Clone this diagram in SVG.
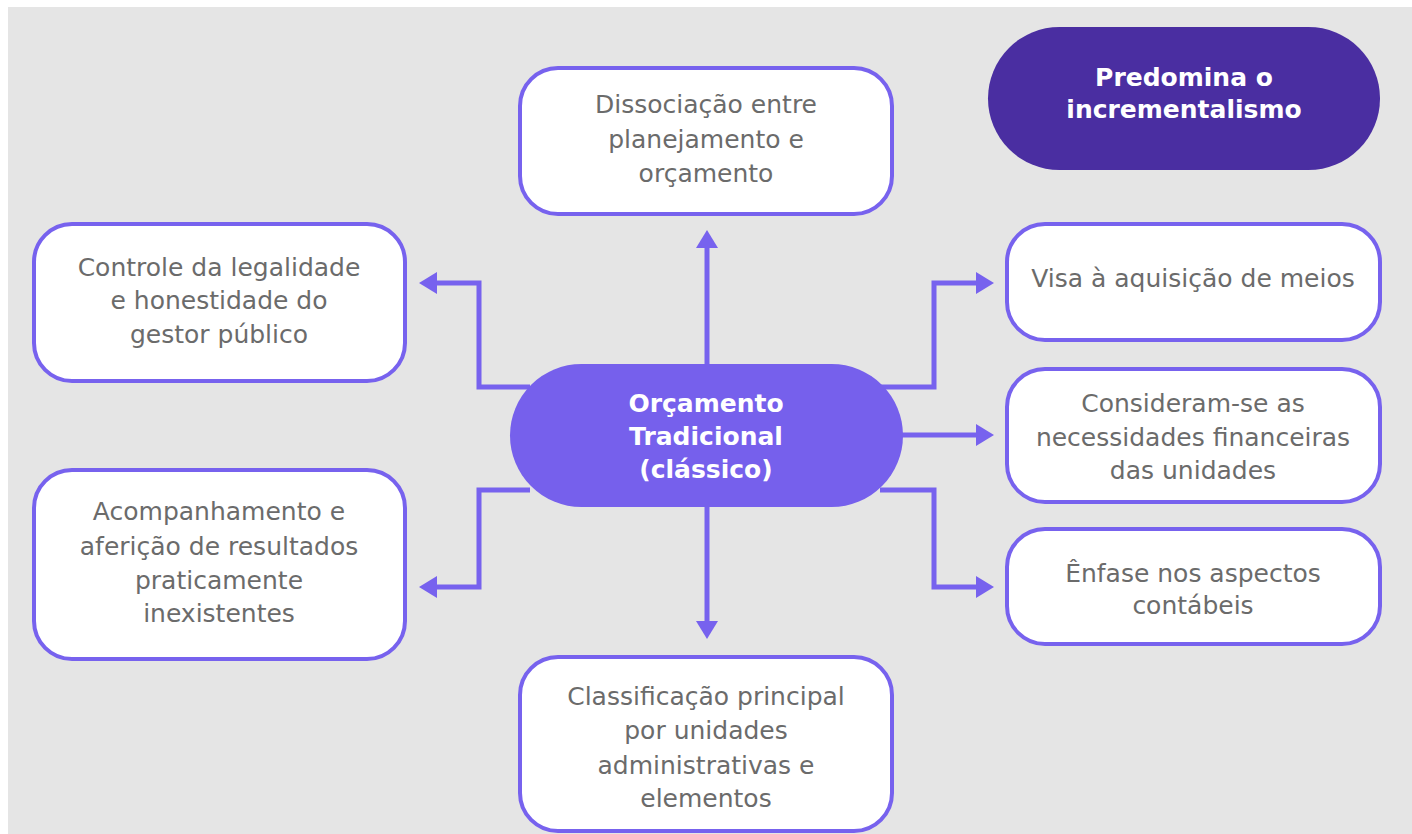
<svg xmlns="http://www.w3.org/2000/svg" width="1412" height="834" viewBox="0 0 1412 834">
<defs>
<style>
.box{fill:#ffffff;stroke:#7762EE;stroke-width:4}
.t{font-family:"DejaVu Sans","Liberation Sans",sans-serif;font-size:25px;fill:#6b6b6b;text-anchor:middle}
.w{font-family:"DejaVu Sans","Liberation Sans",sans-serif;font-size:25px;font-weight:bold;fill:#ffffff;text-anchor:middle}
.c{fill:none;stroke:#7762EE;stroke-width:5}
</style>
<marker id="ah" viewBox="0 0 18 22" refX="0" refY="11" markerWidth="18" markerHeight="22" markerUnits="userSpaceOnUse" orient="auto">
<path d="M0,0 L18,11 L0,22 Z" fill="#7762EE"/>
</marker>
</defs>
<rect x="0" y="0" width="1412" height="834" fill="#ffffff"/>
<rect x="8" y="7" width="1404" height="827" fill="#e5e5e5"/>
<g id="connectors">
<path class="c" d="M707,365 V248" marker-end="url(#ah)"/>
<path class="c" d="M707,505 V621" marker-end="url(#ah)"/>
<path class="c" d="M530,387 H479 V283 H437" marker-end="url(#ah)"/>
<path class="c" d="M530,490 H479 V587 H437" marker-end="url(#ah)"/>
<path class="c" d="M880,387 H934 V283 H976" marker-end="url(#ah)"/>
<path class="c" d="M900,435 H976" marker-end="url(#ah)"/>
<path class="c" d="M880,490 H934 V587 H976" marker-end="url(#ah)"/>
</g>
<g id="center">
<rect x="510" y="364" width="393" height="143" rx="71.5" fill="#7660EC"/>
<text class="w" x="706" y="412">Orçamento</text>
<text class="w" x="706" y="445">Tradicional</text>
<text class="w" x="706" y="478">(clássico)</text>
</g>
<g id="predomina">
<rect x="988" y="27" width="392" height="143" rx="71.5" fill="#4A2EA1"/>
<text class="w" x="1184" y="86">Predomina o</text>
<text class="w" x="1184" y="118">incrementalismo</text>
</g>
<g id="dissociacao">
<rect class="box" x="520" y="68" width="372" height="146" rx="38"/>
<text class="t" x="706" y="113">Dissociação entre</text>
<text class="t" x="706" y="148">planejamento e</text>
<text class="t" x="706" y="182">orçamento</text>
</g>
<g id="controle">
<rect class="box" x="34" y="224" width="371" height="157" rx="38"/>
<text class="t" x="219" y="276">Controle da legalidade</text>
<text class="t" x="219" y="309">e honestidade do</text>
<text class="t" x="219" y="343">gestor público</text>
</g>
<g id="acompanhamento">
<rect class="box" x="34" y="470" width="371" height="189" rx="38"/>
<text class="t" x="219" y="520">Acompanhamento e</text>
<text class="t" x="219" y="555">aferição de resultados</text>
<text class="t" x="219" y="589">praticamente</text>
<text class="t" x="219" y="622">inexistentes</text>
</g>
<g id="classificacao">
<rect class="box" x="520" y="657" width="372" height="174" rx="38"/>
<text class="t" x="706" y="705">Classificação principal</text>
<text class="t" x="706" y="739">por unidades</text>
<text class="t" x="706" y="774">administrativas e</text>
<text class="t" x="706" y="807">elementos</text>
</g>
<g id="visa">
<rect class="box" x="1007" y="224" width="373" height="116" rx="38"/>
<text class="t" x="1193" y="287">Visa à aquisição de meios</text>
</g>
<g id="consideram">
<rect class="box" x="1007" y="369" width="373" height="133" rx="38"/>
<text class="t" x="1193" y="412">Consideram-se as</text>
<text class="t" x="1193" y="446">necessidades financeiras</text>
<text class="t" x="1193" y="479">das unidades</text>
</g>
<g id="enfase">
<rect class="box" x="1007" y="529" width="373" height="115" rx="38"/>
<text class="t" x="1193" y="582">Ênfase nos aspectos</text>
<text class="t" x="1193" y="614">contábeis</text>
</g>
</svg>
